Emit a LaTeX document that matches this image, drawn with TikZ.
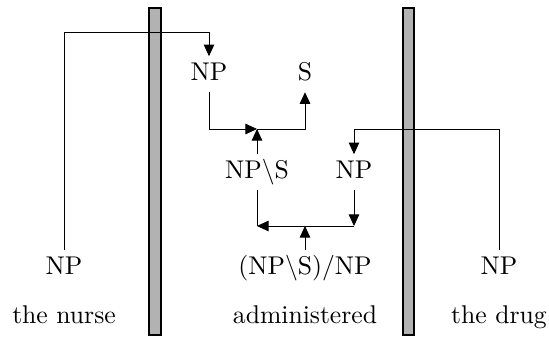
\documentclass[tikz,border=0pt]{standalone}
\usetikzlibrary{arrows.meta}
\tikzset{
  cat/.style={anchor=base,inner xsep=1pt,inner ysep=2.3pt,
    text height=6.83pt,text depth=2.3pt},
  word/.style={anchor=base,inner sep=0pt},
  tier/.style={draw=black,fill=black!30,line width=0.4pt},
  feed/.style={-{Triangle[length=4.5pt,width=4.1pt]}}
}
\begin{document}
\begin{tikzpicture}[x=0.39pt,y=-0.39pt,line width=0.35pt]
\useasboundingbox (0,0) rectangle (549,337);
% word boundaries
\draw[tier] (149,8) rectangle (161,335);
\draw[tier] (403,8) rectangle (414,335);
%
% words
\node[word] (nurse) at (64,323) {the nurse};
\node[word] (admin) at (305,323) {administered};
\node[word] (drug) at (499,323) {the drug};
%
% categories
\node[cat] (npL) at (64,274) {NP};
\node[cat] (fn) at (305,274) {(NP$\backslash$S)/NP};
\node[cat] (npR) at (499,274) {NP};
\node[cat] (vp) at (257,178) {NP$\backslash$S};
\node[cat] (npO) at (354,178) {NP};
\node[cat] (npS) at (209,80) {NP};
\node[cat] (s) at (305,80) {S};
%
% junctions
\coordinate (k1) at (209,32);
\coordinate (k2) at (257,129);
\coordinate (k3) at (354,129);
\coordinate (k4) at (305,226);
%
% subject moves over the boundary
\draw[feed] (npL.north) |- (k1) -- (npS.north);
\draw[feed] (npS.south) |- (k2);
\draw[feed] (k2) -| (s.south);
\draw[feed] (vp.north) -- (k2);
%
% object moves over the boundary
\draw[feed] (npR.north) |- (k3) -- (npO.north);
\draw[feed] (npO.south) -- (npO.south |- k4);
\draw[feed] (npO.south |- k4) -- (vp.south |- k4);
\draw (vp.south) -- (vp.south |- k4);
\draw[feed] (fn.north) -- (k4);
\end{tikzpicture}
\end{document}
